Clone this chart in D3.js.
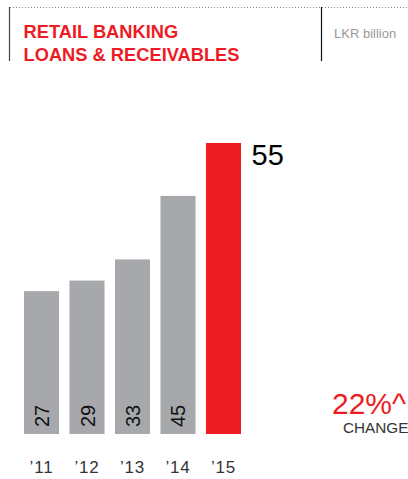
<!DOCTYPE html>
<html>
<head>
<meta charset="utf-8">
<script src="https://cdn.jsdelivr.net/npm/d3@7"></script>
<style>
  html, body { margin: 0; padding: 0; background: #fff; overflow: hidden; }
  svg { display: block; }
  text { font-family: "Liberation Sans", Arial, Helvetica, sans-serif; }
</style>
</head>
<body>
<svg id="chart" width="408" height="479"></svg>
<script>
// Retail banking loans & receivables, LKR billion
const years = ["’11", "’12", "’13", "’14", "’15"];
const values = [27, 29, 33, 45, 55];
const titleLines = ["RETAIL BANKING", "LOANS & RECEIVABLES"];
const unitLabel = "LKR billion";
const changeValue = "22%^";
const changeLabel = "CHANGE";

const RED = "#ED1C24";
const GREY = "#A7A8AB";

const svg = d3.select("#chart");

// header frame: dotted top rule with two vertical dividers
svg.append("line")
  .attr("x1", 10).attr("x2", 408).attr("y1", 7.5).attr("y2", 7.5)
  .attr("stroke", "#8a8a8a").attr("stroke-width", 1)
  .attr("stroke-dasharray", "1,2");
svg.append("line")
  .attr("x1", 9.5).attr("x2", 9.5).attr("y1", 7).attr("y2", 61)
  .attr("stroke", "#444").attr("stroke-width", 1.2);
svg.append("line")
  .attr("x1", 321.5).attr("x2", 321.5).attr("y1", 7).attr("y2", 61)
  .attr("stroke", "#111").attr("stroke-width", 1.2);

svg.selectAll("text.title")
  .data(titleLines)
  .join("text")
  .attr("class", "title")
  .attr("x", 23.5)
  .attr("y", (d, i) => 37.5 + i * 23.2)
  .attr("fill", RED)
  .attr("font-size", 18.3)
  .attr("font-weight", "bold")
  .text(d => d);

svg.append("text")
  .attr("x", 334).attr("y", 37.6)
  .attr("fill", "#999")
  .attr("font-size", 13)
  .text(unitLabel);

// scales
const x = d3.scaleBand().domain(years).range([24, 241]).paddingInner(0.23).paddingOuter(0);
const y = d3.scaleLinear().domain([0, 55]).range([434, 143]);

const last = years.length - 1;

svg.selectAll("rect.bar")
  .data(values)
  .join("rect")
  .attr("class", "bar")
  .attr("x", (d, i) => x(years[i]))
  .attr("width", x.bandwidth())
  .attr("y", d => y(d))
  .attr("height", d => y(0) - y(d))
  .attr("fill", (d, i) => i === last ? RED : GREY);

// rotated value labels inside the grey bars
svg.selectAll("text.val")
  .data(values.slice(0, last))
  .join("text")
  .attr("class", "val")
  .attr("transform", (d, i) => {
    const cx = x(years[i]) + x.bandwidth() / 2 + 7.5;
    return `translate(${cx},427) rotate(-90)`;
  })
  .attr("fill", "#111")
  .attr("font-size", 20)
  .text(d => d);

// highlighted latest value beside the red bar
svg.append("text")
  .attr("x", x(years[last]) + x.bandwidth() + 10.5)
  .attr("y", 165)
  .attr("fill", "#000")
  .attr("font-size", 29)
  .text(values[last]);

// category axis
const axis = d3.axisBottom(x).tickSize(0).tickPadding(0);
const gx = svg.append("g").attr("transform", "translate(0,473)").call(axis);
gx.select(".domain").remove();
gx.selectAll("text")
  .attr("dy", 0)
  .attr("font-size", 17)
  .attr("letter-spacing", 0.8)
  .attr("font-family", "\"Liberation Sans\", Arial, sans-serif")
  .attr("fill", "#333");

// year-on-year change
svg.append("text")
  .attr("x", 332).attr("y", 413.5)
  .attr("fill", RED)
  .attr("font-size", 30)
  .text(changeValue);
svg.append("text")
  .attr("x", 343).attr("y", 433)
  .attr("fill", "#333")
  .attr("font-size", 15.3)
  .text(changeLabel);
</script>
</body>
</html>
